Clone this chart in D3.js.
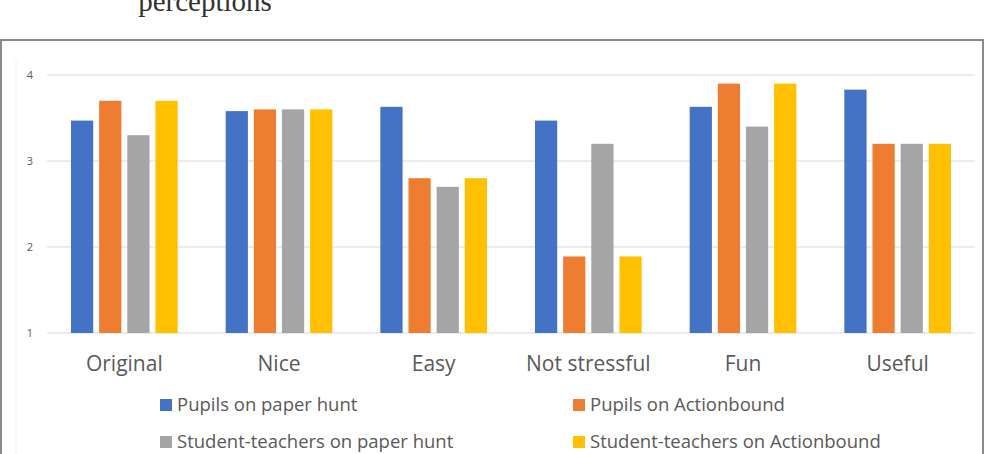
<!DOCTYPE html>
<html>
<head>
<meta charset="utf-8">
<script src="https://cdn.jsdelivr.net/npm/d3@7"></script>
<style>
  body { margin: 0; background: #fff; }
  text { font-family: "Open Sans", "Noto Sans", sans-serif; }
</style>
</head>
<body>
<svg id="chart"></svg>
<script>
// Data
const categories = ["Original", "Nice", "Easy", "Not stressful", "Fun", "Useful"];
const seriesNames = ["Pupils on paper hunt", "Pupils on Actionbound",
                     "Student-teachers on paper hunt", "Student-teachers on Actionbound"];
const pupilsPaper   = [3.47, 3.58, 3.63, 3.47, 3.63, 3.83];
const pupilsAction  = [3.70, 3.60, 2.80, 1.89, 3.90, 3.20];
const teachersPaper = [3.30, 3.60, 2.70, 3.20, 3.40, 3.20];
const teachersAction = [3.70, 3.60, 2.80, 1.89, 3.90, 3.20];
const yTicks = [1, 2, 3, 4];

const colors = ["#4472C4", "#ED7D31", "#A5A5A5", "#FFC000"];
const seriesValues = [pupilsPaper, pupilsAction, teachersPaper, teachersAction];

const W = 985, H = 454;
const plot = {left: 47, right: 975, top: 75, bottom: 333};

const svg = d3.select("#chart").attr("width", W).attr("height", H);

// Caption fragment above the chart (cut off at the top, as in the source)
svg.append("text")
    .attr("x", 205)
    .attr("y", 11)
    .attr("text-anchor", "middle")
    .style("font-family", "'Liberation Serif', 'DejaVu Serif', serif")
    .style("font-size", "29px")
    .attr("fill", "#333")
    .text("perceptions");

// Chart frame
svg.append("rect")
    .attr("x", 1).attr("y", 40)
    .attr("width", 982).attr("height", 430)
    .attr("fill", "#fff")
    .attr("stroke", "#8a8a8a")
    .attr("stroke-width", 2);

// faint inner plot-area frame
svg.append("line")
    .attr("x1", 16).attr("x2", 16).attr("y1", 60).attr("y2", 454)
    .attr("stroke", "#f0f0f0");

const x0 = d3.scaleBand()
    .domain(categories)
    .range([plot.left, plot.right])
    .paddingInner(0)
    .paddingOuter(0);

const x1 = d3.scaleBand()
    .domain(d3.range(seriesNames.length))
    .range([24, x0.bandwidth() - 24])
    .paddingInner(0.21);

const y = d3.scaleLinear()
    .domain([1, 4])
    .range([plot.bottom, plot.top]);

// gridlines
svg.append("g")
    .selectAll("line")
    .data(yTicks)
    .join("line")
    .attr("x1", plot.left)
    .attr("x2", plot.right)
    .attr("y1", d => y(d))
    .attr("y2", d => y(d))
    .attr("stroke", "#d9d9d9")
    .attr("stroke-width", 1);

// y tick labels
svg.append("g")
    .selectAll("text")
    .data(yTicks)
    .join("text")
    .attr("x", 30)
    .attr("y", d => y(d))
    .attr("dy", "0.35em")
    .attr("text-anchor", "middle")
    .style("font-size", "11px")
    .attr("fill", "#595959")
    .text(d => d);

// bars
const groups = svg.append("g")
    .selectAll("g")
    .data(categories)
    .join("g")
    .attr("transform", d => `translate(${x0(d)},0)`);

groups.selectAll("rect")
    .data((c, ci) => seriesValues.map((vals, si) => ({si, v: vals[ci]})))
    .join("rect")
    .attr("x", d => x1(d.si))
    .attr("width", x1.bandwidth())
    .attr("y", d => y(d.v))
    .attr("height", d => y(1) - y(d.v))
    .attr("fill", d => colors[d.si]);

// category labels
svg.append("g")
    .selectAll("text")
    .data(categories)
    .join("text")
    .attr("x", d => x0(d) + x0.bandwidth() / 2)
    .attr("y", 364)
    .attr("dy", "0.35em")
    .attr("text-anchor", "middle")
    .style("font-size", "21px")
    .attr("fill", "#595959")
    .text(d => d);

// legend (2 columns x 2 rows)
const legendPos = [
    {x: 160, y: 405}, {x: 573, y: 405},
    {x: 160, y: 442}, {x: 573, y: 442}
];
const legend = svg.append("g")
    .selectAll("g")
    .data(seriesNames)
    .join("g")
    .attr("transform", (d, i) => `translate(${legendPos[i].x},${legendPos[i].y})`);

legend.append("rect")
    .attr("x", 0).attr("y", -6)
    .attr("width", 12).attr("height", 12)
    .attr("fill", (d, i) => colors[i]);

legend.append("text")
    .attr("x", 17)
    .attr("y", 0)
    .attr("dy", "0.35em")
    .style("font-size", "18.5px")
    .attr("fill", "#595959")
    .text(d => d);
</script>
</body>
</html>
